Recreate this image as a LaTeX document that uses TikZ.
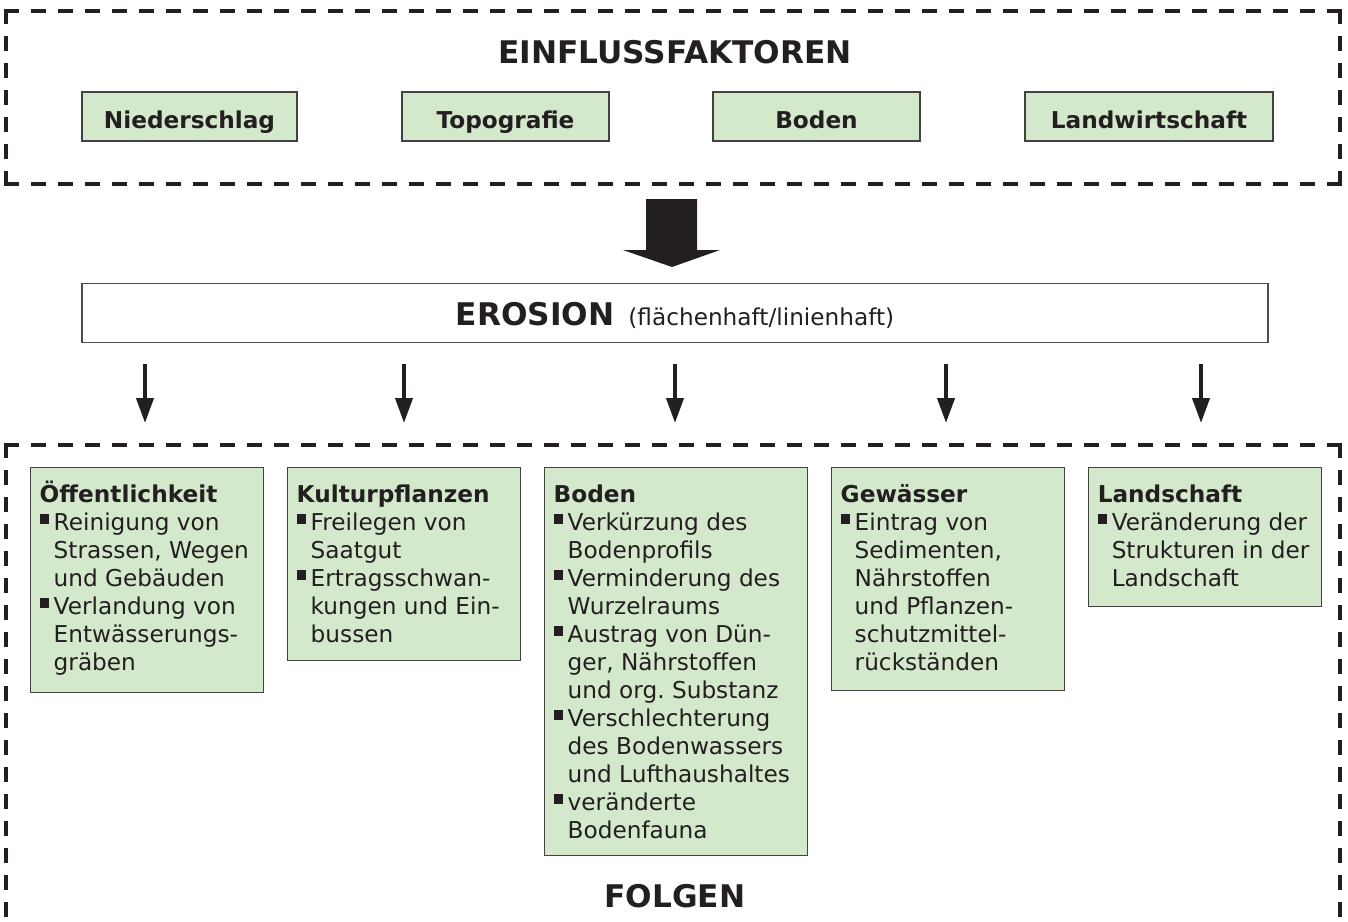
\documentclass[tikz,border=0pt]{standalone}
\usepackage{fontspec}
\setmainfont{DejaVu Sans}
\usetikzlibrary{arrows.meta}
\newlength\px \setlength\px{0.75pt}
\definecolor{gfill}{RGB}{212,232,204}
\definecolor{ink}{RGB}{35,31,32}
\newcommand\bodyf{\fontsize{17.4pt}{21pt}\selectfont}
\newcommand\titlef{\fontsize{23.4pt}{28pt}\selectfont\bfseries}
\newcommand\hd[1]{\hbox to \hsize{\rule{0pt}{35\px}\bfseries #1\hss}}
\newcommand\bl[1]{\hbox to \hsize{\makebox[14\px][l]{\rule[7\px]{9.5\px}{9.5\px}}#1\hss}}
\newcommand\cl[1]{\hbox to \hsize{\hspace*{14\px}#1\hss}}
\newcommand\gcontent[3]{\hspace*{9\px}\parbox[c][#2\px][t]{\dimexpr#1\px-9\px\relax}{\bodyf\frenchspacing #3}}
\begin{document}
\begin{tikzpicture}[x=0.75pt,y=-0.75pt,
  dashframe/.style={draw=ink, line width=2.6pt, dash pattern=on 8.25pt off 12pt, line cap=rect},
  topbox/.style={draw=ink!85, fill=gfill, line width=1.1pt, inner sep=0pt, minimum height=36.75pt,
    text height=17.25pt, text depth=0pt, font=\bodyf\bfseries, text=ink},
  gbox/.style={draw=ink!85, fill=gfill, line width=1.1pt, inner sep=0pt, anchor=north west, text=ink},
  erbox/.style={draw=black!70, line width=1.1pt, inner sep=0pt, minimum width=889.5pt, minimum height=44.25pt,
    text height=18pt, text depth=0pt, text=ink},
  title/.style={font=\titlef, text=ink, inner sep=0pt, anchor=base},
  sarrow/.style={draw=ink, line width=3pt, -{Triangle[width=12.75pt,length=18.75pt]}}
]
\useasboundingbox (0,0) rectangle (1348,921);

% top dashed frame
\draw[dashframe] (6,11) -- (673,11);
\draw[dashframe] (1340,11) -- (673,11);
\draw[dashframe] (6,184) -- (673,184);
\draw[dashframe] (1340,184) -- (673,184);
\draw[dashframe] (6,11) -- (6,97);
\draw[dashframe] (6,184) -- (6,97);
\draw[dashframe] (1340,11) -- (1340,97);
\draw[dashframe] (1340,184) -- (1340,97);

\node[title] (einfl) at (675,63) {EINFLUSSFAKTOREN};

\node[topbox, minimum width=161.25pt] (nied) at (189.5,116.5) {Niederschlag};
\node[topbox, minimum width=155.25pt] (topo) at (505.5,116.5) {Topografie};
\node[topbox, minimum width=155.25pt] (bodt) at (816.5,116.5) {Boden};
\node[topbox, minimum width=186pt] (land) at (1149,116.5) {Landwirtschaft};

% big arrow
\fill[ink] (646,199) -- (697,199) -- (697,250) -- (720,250) -- (672,267) -- (623,250) -- (646,250) -- cycle;

\node[erbox] (erosion) at (675,313) {{\titlef EROSION}\hspace{14\px}{\bodyf (flächenhaft/linienhaft)}};

% small arrows
\foreach \i/\x in {1/145,2/404,3/675,4/946,5/1201}{
  \coordinate (s\i) at (\x,364);
  \coordinate (e\i) at (\x,423);
  \draw[sarrow] (s\i) -- (e\i);
}

% bottom dashed frame (open at bottom)
\draw[dashframe] (6,445) -- (673,445);
\draw[dashframe] (1340,445) -- (673,445);
\draw[dashframe] (6,445) -- (6,940);
\draw[dashframe] (1340,445) -- (1340,940);

\node[gbox] (oeff) at (30,467) {\gcontent{233}{225}{%
  \hd{Öffentlichkeit}
  \bl{Reinigung von}
  \cl{Strassen, Wegen}
  \cl{und Gebäuden}
  \bl{Verlandung von}
  \cl{Entwässerungs-}
  \cl{gräben}}};

\node[gbox] (kult) at (287,467) {\gcontent{233}{193}{%
  \hd{Kulturpflanzen}
  \bl{Freilegen von}
  \cl{Saatgut}
  \bl{Ertragsschwan-}
  \cl{kungen und Ein-}
  \cl{bussen}}};

\node[gbox] (boden) at (544,467) {\gcontent{263}{388}{%
  \hd{Boden}
  \bl{Verkürzung des}
  \cl{Bodenprofils}
  \bl{Verminderung des}
  \cl{Wurzelraums}
  \bl{Austrag von Dün-}
  \cl{ger, Nährstoffen}
  \cl{und org.\ Substanz}
  \bl{Verschlechterung}
  \cl{des Bodenwassers}
  \cl{und Lufthaushaltes}
  \bl{veränderte}
  \cl{Bodenfauna}}};

\node[gbox] (gew) at (831,467) {\gcontent{233}{223}{%
  \hd{Gewässer}
  \bl{Eintrag von}
  \cl{Sedimenten,}
  \cl{Nährstoffen}
  \cl{und Pflanzen-}
  \cl{schutzmittel-}
  \cl{rückständen}}};

\node[gbox] (lands) at (1088,467) {\gcontent{233}{139}{%
  \hd{Landschaft}
  \bl{Veränderung der}
  \cl{Strukturen in der}
  \cl{Landschaft}}};

\node[title] (folgen) at (675,907) {FOLGEN};
\end{tikzpicture}
\end{document}
